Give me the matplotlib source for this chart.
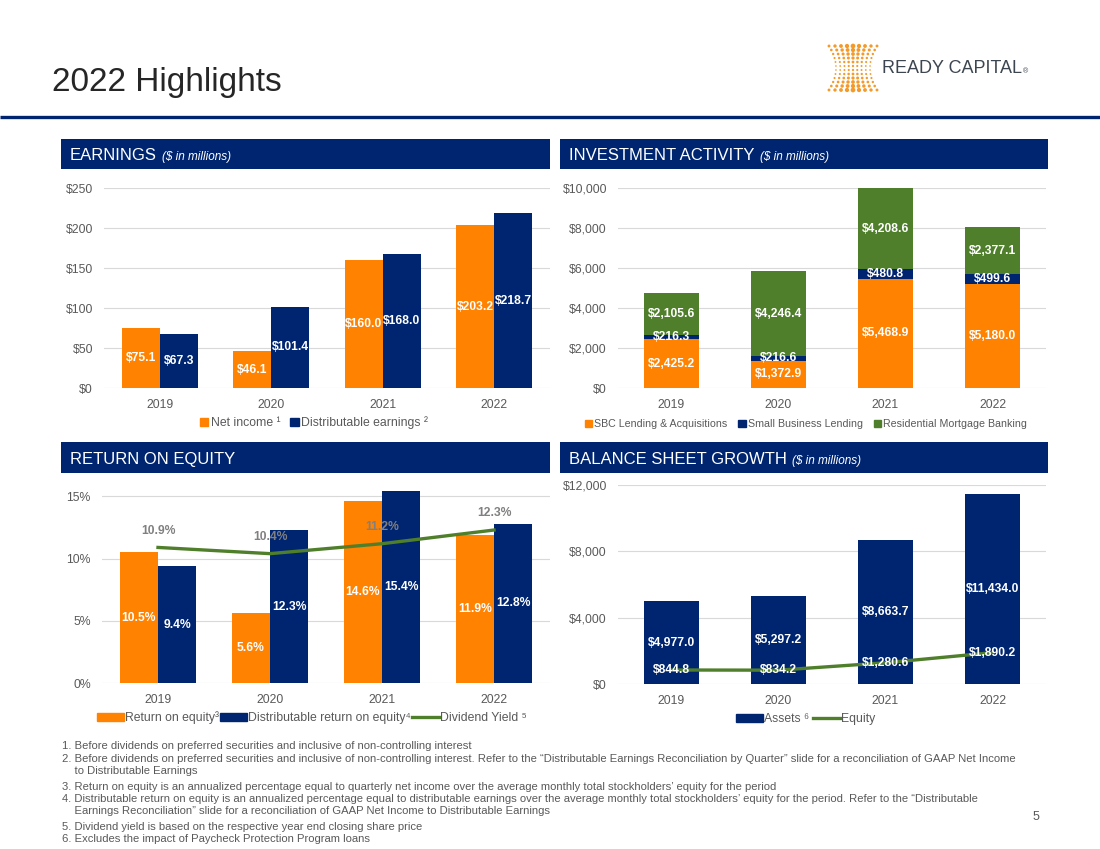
import numpy as np
import matplotlib.pyplot as plt
from matplotlib.patches import Rectangle
from matplotlib.lines import Line2D

W, H = 1100, 849
ORANGE = '#ff8200'
NAVY = '#002570'
GREEN = '#4f7f2b'
GRAY = '#595959'
GRID = '#d9d9d9'

# data
years = ['2019', '2020', '2021', '2022']
net_income = [75.1, 46.1, 160.0, 203.2]
dist_earnings = [67.3, 101.4, 168.0, 218.7]
sbc_lending = [2425.2, 1372.9, 5468.9, 5180.0]
small_business = [216.3, 216.6, 480.8, 499.6]
residential = [2105.6, 4246.4, 4208.6, 2377.1]
roe = [10.5, 5.6, 14.6, 11.9]
dist_roe = [9.4, 12.3, 15.4, 12.8]
div_yield = [10.9, 10.4, 11.2, 12.3]
assets = [4977.0, 5297.2, 8663.7, 11434.0]
equity = [844.8, 834.2, 1280.6, 1890.2]

footnotes = [
    "1. Before dividends on preferred securities and inclusive of non-controlling interest",
    "2. Before dividends on preferred securities and inclusive of non-controlling interest. Refer to the \u201cDistributable Earnings Reconciliation by Quarter\u201d slide for a reconciliation of GAAP Net Income",
    "    to Distributable Earnings",
    "3. Return on equity is an annualized percentage equal to quarterly net income over the average monthly total stockholders\u2019 equity for the period",
    "4. Distributable return on equity is an annualized percentage equal to distributable earnings over the average monthly total stockholders\u2019 equity for the period. Refer to the \u201cDistributable",
    "    Earnings Reconciliation\u201d slide for a reconciliation of GAAP Net Income to Distributable Earnings",
    "5. Dividend yield is based on the respective year end closing share price",
    "6. Excludes the impact of Paycheck Protection Program loans",
]
foot_y = [746, 758.5, 771, 786.5, 799, 811, 827, 839]

plt.rcParams['font.family'] = ['Liberation Sans', 'DejaVu Sans']

fig = plt.figure(figsize=(11, 8.49), dpi=100)

# background axes in pixel coordinates for the slide furniture
bg = fig.add_axes([0, 0, 1, 1])
bg.set_xlim(0, W)
bg.set_ylim(H, 0)
bg.axis('off')

bg.text(52, 82, '2022 Highlights', fontsize=24, color='#262626', va='center')
bg.plot([0, W], [116.5, 116.5], color=NAVY, lw=2.4, solid_capstyle='butt')

# logo: dot barrel + name
for yy in np.linspace(46, 90, 12):
    t = (yy - 68) / 22
    half = 17 + 7 * t ** 2
    cols = np.linspace(-half, half, 9)
    d = (1.0 + 1.9 * abs(t)) * (1 - 0.45 * np.abs(cols) / half) + 0.5
    bg.scatter(853 + cols, np.full(9, yy), s=d ** 2, color='#f39a2b', lw=0)
bg.text(882, 68, 'READY CAPITAL', fontsize=13, color='#3d4650', va='center')
bg.text(1023, 72, '\u00ae', fontsize=5, color='#3d4650', va='center')

renderer = fig.canvas.get_renderer()


def header(x0, y0, x1, y1, title, sub=None):
    bg.add_patch(Rectangle((x0, y0), x1 - x0, y1 - y0, facecolor=NAVY, edgecolor='none'))
    base = y1 - 9
    t = bg.text(x0 + 9, base, title, color='white', fontsize=12, va='baseline')
    if sub:
        bb = t.get_window_extent(renderer)
        bg.text(bb.x1 + 5, base, sub, color='white', fontsize=8.5, style='italic', va='baseline')


header(61, 139, 550, 169, 'EARNINGS', '($ in millions)')
header(560, 139, 1048, 169, 'INVESTMENT ACTIVITY', '($ in millions)')
header(61, 442, 550, 473, 'RETURN ON EQUITY')
header(560, 442, 1048, 473, 'BALANCE SHEET GROWTH', '($ in millions)')


def box(x0, y0, x1, y1):
    return [x0 / W, 1 - y1 / H, (x1 - x0) / W, (y1 - y0) / H]


x = np.arange(len(years))


def style(ax, ylim, ticks, fmt):
    ax.set_xlim(-0.5, 3.5)
    ax.set_ylim(*ylim)
    ax.set_yticks(ticks)
    ax.set_yticklabels([fmt(v) for v in ticks])
    ax.set_xticks(x)
    ax.set_xticklabels(years)
    for s in ax.spines.values():
        s.set_visible(False)
    ax.grid(axis='y', color=GRID, lw=0.8)
    ax.set_axisbelow(True)
    ax.tick_params(length=0, colors=GRAY, labelsize=8.8)
    ax.tick_params(axis='y', pad=8)
    ax.tick_params(axis='x', pad=8)
    ax.patch.set_alpha(0)


lab = dict(label_type='center', color='white', fontweight='bold', fontsize=8.7)

# EARNINGS
ax1 = fig.add_axes(box(104, 188, 550, 388))
w = 0.34
b = ax1.bar(x - w / 2, net_income, w, color=ORANGE)
ax1.bar_label(b, labels=[f'${v:,.1f}' for v in net_income], **lab)
b = ax1.bar(x + w / 2, dist_earnings, w, color=NAVY)
ax1.bar_label(b, labels=[f'${v:,.1f}' for v in dist_earnings], **lab)
style(ax1, (0, 250), [0, 50, 100, 150, 200, 250], lambda v: f'${v:,.0f}')
sq = dict(handlelength=0.7, handleheight=0.7, handletextpad=0.2, frameon=False,
          labelcolor=GRAY, loc='center', bbox_transform=fig.transFigure)
ax1.legend([Rectangle((0, 0), 1, 1, color=ORANGE), Rectangle((0, 0), 1, 1, color=NAVY)],
           ['Net income \u00b9', 'Distributable earnings \u00b2'], ncol=2, fontsize=8.8,
           columnspacing=0.8, bbox_to_anchor=(314 / W, 1 - 423 / H), **sq)

# INVESTMENT ACTIVITY
ax2 = fig.add_axes(box(618, 188, 1046, 388))
w = 0.51
bottom = np.zeros(4)
for vals, col in [(sbc_lending, ORANGE), (small_business, NAVY), (residential, GREEN)]:
    b = ax2.bar(x, vals, w, bottom=bottom, color=col)
    ax2.bar_label(b, labels=[f'${v:,.1f}' for v in vals], **lab)
    bottom += np.array(vals)
style(ax2, (0, 10000), [0, 2000, 4000, 6000, 8000, 10000], lambda v: f'${v:,.0f}')
ax2.legend([Rectangle((0, 0), 1, 1, color=c) for c in (ORANGE, NAVY, GREEN)],
           ['SBC Lending & Acquisitions', 'Small Business Lending', 'Residential Mortgage Banking'],
           ncol=3, fontsize=7.7, columnspacing=1.0, bbox_to_anchor=(806 / W, 1 - 424 / H), **sq)

# RETURN ON EQUITY
ax3 = fig.add_axes(box(102, 484, 550, 683))
w = 0.34
b = ax3.bar(x - w / 2, roe, w, color=ORANGE)
ax3.bar_label(b, labels=[f'{v:.1f}%' for v in roe], **lab)
b = ax3.bar(x + w / 2, dist_roe, w, color=NAVY)
ax3.bar_label(b, labels=[f'{v:.1f}%' for v in dist_roe], **lab)
ax3.plot(x, div_yield, color=GREEN, lw=2.4, zorder=4)
for xi, v in zip(x, div_yield):
    ax3.annotate(f'{v:.1f}%', (xi, v), xytext=(0, 12), textcoords='offset points',
                 ha='center', va='center', color='#808080', fontweight='bold', fontsize=8.7, zorder=5)
style(ax3, (0, 16), [0, 5, 10, 15], lambda v: f'{v:.0f}%')
wide = dict(handlelength=2.2, handleheight=0.6, handletextpad=0.1, frameon=False,
            labelcolor=GRAY, loc='center', bbox_transform=fig.transFigure, fontsize=8.8)
ax3.legend([Rectangle((0, 0), 1, 1, color=ORANGE), Rectangle((0, 0), 1, 1, color=NAVY),
            Line2D([], [], color=GREEN, lw=2.4)],
           ['Return on equity\u00b3', 'Distributable return on equity\u2074', 'Dividend Yield \u2075'],
           ncol=3, columnspacing=0.1, bbox_to_anchor=(312 / W, 1 - 718 / H), **wide)

# BALANCE SHEET GROWTH
ax4 = fig.add_axes(box(618, 485, 1046, 684))
b = ax4.bar(x, assets, 0.51, color=NAVY)
ax4.bar_label(b, labels=[f'${v:,.1f}' for v in assets], **lab)
ax4.plot(x, equity, color=GREEN, lw=2.4, zorder=4)
for xi, v in zip(x, equity):
    ax4.text(xi, v, f'${v:,.1f}', ha='center', va='center', color='white',
             fontweight='bold', fontsize=8.7, zorder=5)
style(ax4, (0, 12000), [0, 4000, 8000, 12000], lambda v: f'${v:,.0f}')
ax4.legend([Rectangle((0, 0), 1, 1, color=NAVY), Line2D([], [], color=GREEN, lw=2.4)],
           ['Assets \u2076', 'Equity'], ncol=2, columnspacing=0.3,
           bbox_to_anchor=(806 / W, 1 - 719 / H), **wide)

# footnotes and page number
for txt, yy in zip(footnotes, foot_y):
    bg.text(62, yy, txt, fontsize=8.1, color=GRAY, va='center')
bg.text(1036, 817, '5', fontsize=9, color=GRAY, va='center', ha='center')

fig.savefig('out.png', dpi=100)
